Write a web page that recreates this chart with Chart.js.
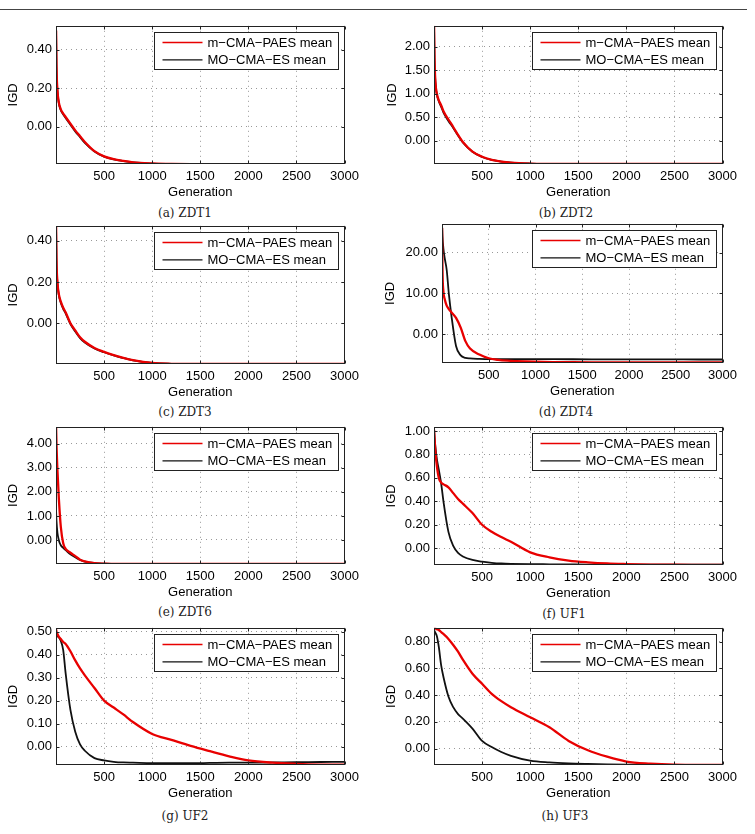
<!DOCTYPE html>
<html>
<head>
<meta charset="utf-8">
<script src="https://cdn.jsdelivr.net/npm/chart.js@4.4.0/dist/chart.umd.min.js"></script>
<style>
body { margin: 0; background: #fff; }
#page { position: relative; width: 755px; height: 834px; overflow: hidden; background: #fff; }
.rule { position: absolute; left: 0; top: 9px; width: 747px; border-top: 1px solid #444; }
.panel { position: absolute; }
.cap { position: absolute; font-family: "DejaVu Serif", serif; font-size: 12px; color: #222;
       transform: translate(-50%, -50%); white-space: nowrap; }
</style>
</head>
<body>
<div id="page"><div class="rule"></div></div>
<script>
// generations sampled along the x axis (shared by all panels)
const generations = [1, 5, 15, 30, 50, 75, 100, 150, 200, 250, 300, 400, 500, 600, 700, 800,
  1000, 1200, 1400, 1600, 1800, 2000, 2250, 2500, 2750, 3000];
const xTicks = [500, 1000, 1500, 2000, 2500, 3000];
const seriesNames = ['m\u2212CMA\u2212PAES mean', 'MO\u2212CMA\u2212ES mean'];

// IGD mean curves
const paesZDT1 = [0.50, 0.32, 0.19, 0.125, 0.09, 0.068, 0.05, 0.015, -0.02, -0.05, -0.08, -0.128, -0.155,
  -0.17, -0.179, -0.186, -0.192, -0.195, -0.196, -0.196, -0.196, -0.196, -0.196, -0.196, -0.196, -0.196];
const moZDT1 = [0.49, 0.31, 0.185, 0.12, 0.085, 0.063, 0.045, 0.01, -0.025, -0.055, -0.085, -0.13, -0.157,
  -0.171, -0.18, -0.187, -0.193, -0.195, -0.196, -0.196, -0.196, -0.196, -0.196, -0.196, -0.196, -0.196];

const paesZDT2 = [2.45, 1.8, 1.25, 1.0, 0.86, 0.75, 0.62, 0.45, 0.29, 0.12, -0.03, -0.235, -0.345,
  -0.41, -0.447, -0.47, -0.49, -0.497, -0.5, -0.5, -0.5, -0.5, -0.5, -0.5, -0.5, -0.5];
const moZDT2 = [2.4, 1.75, 1.22, 0.98, 0.84, 0.72, 0.59, 0.42, 0.27, 0.11, -0.04, -0.24, -0.35,
  -0.412, -0.448, -0.471, -0.49, -0.497, -0.5, -0.5, -0.5, -0.5, -0.5, -0.5, -0.5, -0.5];

const paesZDT3 = [0.47, 0.31, 0.2, 0.14, 0.105, 0.075, 0.053, 0.0, -0.035, -0.068, -0.09, -0.12, -0.139,
  -0.155, -0.168, -0.179, -0.193, -0.197, -0.198, -0.198, -0.198, -0.198, -0.198, -0.198, -0.198, -0.198];
const moZDT3 = [0.46, 0.3, 0.195, 0.135, 0.1, 0.07, 0.048, -0.004, -0.04, -0.072, -0.094, -0.123, -0.141,
  -0.156, -0.169, -0.18, -0.193, -0.197, -0.198, -0.198, -0.198, -0.198, -0.198, -0.198, -0.198, -0.198];

const paesZDT4 = [26, 16, 10.5, 8.5, 7.0, 6.1, 5.4, 4.0, 1.6, -1.7, -3.5, -5.0, -5.9,
  -6.3, -6.5, -6.6, -6.75, -6.83, -6.88, -6.9, -6.9, -6.92, -6.92, -6.93, -6.93, -6.93];
const moZDT4 = [26.5, 24, 21, 18.5, 15.8, 9.5, 4.7, -2.9, -5.2, -5.8, -5.95, -6.05, -6.1,
  -6.1, -6.1, -6.1, -6.12, -6.13, -6.14, -6.15, -6.16, -6.17, -6.18, -6.19, -6.2, -6.2];

const paesZDT6 = [4.7, 4.0, 2.9, 1.7, 0.55, -0.14, -0.37, -0.53, -0.67, -0.82, -0.89, -0.96, -0.985,
  -1.0, -1.0, -1.0, -1.0, -1.0, -1.0, -1.0, -1.0, -1.0, -1.0, -1.0, -1.0, -1.0];
const moZDT6 = [1.2, 0.8, 0.3, -0.02, -0.22, -0.33, -0.42, -0.6, -0.72, -0.83, -0.9, -0.96, -0.985,
  -0.995, -1.0, -1.0, -1.0, -1.0, -1.0, -1.0, -1.0, -1.0, -1.0, -1.0, -1.0, -1.0];

const paesUF1 = [1.01, 0.95, 0.82, 0.7, 0.6, 0.56, 0.545, 0.52, 0.47, 0.42, 0.38, 0.3, 0.2,
  0.14, 0.095, 0.055, -0.035, -0.078, -0.105, -0.12, -0.13, -0.135, -0.139, -0.141, -0.142, -0.143];
const moUF1 = [1.0, 0.95, 0.86, 0.76, 0.67, 0.55, 0.39, 0.14, 0.02, -0.04, -0.07, -0.1, -0.115,
  -0.124, -0.13, -0.133, -0.136, -0.137, -0.138, -0.139, -0.139, -0.14, -0.14, -0.14, -0.14, -0.14];

const paesUF2 = [0.51, 0.5, 0.49, 0.478, 0.468, 0.455, 0.447, 0.415, 0.375, 0.34, 0.31, 0.255, 0.2,
  0.17, 0.14, 0.107, 0.055, 0.029, 0.003, -0.02, -0.042, -0.06, -0.07, -0.075, -0.078, -0.079];
const moUF2 = [0.49, 0.485, 0.48, 0.475, 0.46, 0.42, 0.32, 0.16, 0.065, 0.01, -0.018, -0.05, -0.06,
  -0.066, -0.069, -0.07, -0.072, -0.072, -0.072, -0.071, -0.07, -0.07, -0.069, -0.068, -0.067, -0.066];

const paesUF3 = [0.9, 0.9, 0.898, 0.893, 0.887, 0.87, 0.855, 0.82, 0.775, 0.725, 0.665, 0.56, 0.485,
  0.41, 0.355, 0.31, 0.235, 0.16, 0.058, -0.012, -0.06, -0.096, -0.112, -0.12, -0.122, -0.122];
const moUF3 = [0.885, 0.88, 0.865, 0.84, 0.76, 0.62, 0.53, 0.39, 0.31, 0.258, 0.225, 0.15, 0.058,
  0.012, -0.025, -0.054, -0.09, -0.103, -0.11, -0.114, -0.117, -0.119, -0.12, -0.121, -0.122, -0.122];

// y tick labels per panel
const yTicksZDT1 = [0, 0.2, 0.4];
const yTicksZDT2 = [0, 0.5, 1, 1.5, 2];
const yTicksZDT3 = [0, 0.2, 0.4];
const yTicksZDT4 = [0, 10, 20];
const yTicksZDT6 = [0, 1, 2, 3, 4];
const yTicksUF1 = [0, 0.2, 0.4, 0.6, 0.8, 1.0];
const yTicksUF2 = [0, 0.1, 0.2, 0.3, 0.4, 0.5];
const yTicksUF3 = [0, 0.2, 0.4, 0.6, 0.8];

// layout: box = [left, top, right, bottom] of the plot area on the page
const panels = [
  { cap: '(a) ZDT1', red: paesZDT1, black: moZDT1, yTicks: yTicksZDT1, yMin: -0.195, yMax: 0.525,
    box: [56, 24, 348, 164], cx: 0, capAt: [185, 213], titlePad: 5.5 },
  { cap: '(b) ZDT2', red: paesZDT2, black: moZDT2, yTicks: yTicksZDT2, yMin: -0.5, yMax: 2.45,
    box: [434, 24, 726, 164], cx: 375, capAt: [566, 213], titlePad: 9.5 },
  { cap: '(c) ZDT3', red: paesZDT3, black: moZDT3, yTicks: yTicksZDT3, yMin: -0.198, yMax: 0.473,
    box: [56, 224, 348, 364], cx: 0, capAt: [185, 412], titlePad: 5.5 },
  { cap: '(d) ZDT4', red: paesZDT4, black: moZDT4, yTicks: yTicksZDT4, yMin: -7.06, yMax: 27.06,
    box: [442, 222, 726, 363], cx: 375, capAt: [566, 412], titlePad: 7.2 },
  { cap: '(e) ZDT6', red: paesZDT6, black: moZDT6, yTicks: yTicksZDT6, yMin: -1.0, yMax: 4.71,
    box: [56, 425, 348, 564], cx: 0, capAt: [185, 612], titlePad: 5.5 },
  { cap: '(f) UF1', red: paesUF1, black: moUF1, yTicks: yTicksUF1, yMin: -0.143, yMax: 1.036,
    box: [434, 425, 726, 565], cx: 375, capAt: [564, 614], titlePad: 9 },
  { cap: '(g) UF2', red: paesUF2, black: moUF2, yTicks: yTicksUF2, yMin: -0.08, yMax: 0.517,
    box: [56, 626, 348, 765], cx: 0, capAt: [185, 816], titlePad: 5.5 },
  { cap: '(h) UF3', red: paesUF3, black: moUF3, yTicks: yTicksUF3, yMin: -0.122, yMax: 0.903,
    box: [434, 626, 726, 765], cx: 375, capAt: [565, 816], titlePad: 9 }
];

Chart.defaults.font.family = '"Liberation Sans", Arial, sans-serif';
Chart.defaults.font.size = 13;
Chart.defaults.color = '#000';

const RED = 'rgb(232,0,0)';
const BLACK = '#111';
const axisFont = { family: '"Liberation Sans", Arial, sans-serif', size: 13 };

// black frame round the plot with short inward tick marks
const framePlugin = {
  id: 'frame',
  afterDraw(chart) {
    const { ctx, chartArea: a, scales } = chart;
    const l = Math.round(a.left) + 0.5, r = Math.round(a.right) - 0.5;
    const t = Math.round(a.top) + 0.5, b = Math.round(a.bottom) - 0.5;
    ctx.save();
    ctx.strokeStyle = '#222';
    ctx.lineWidth = 1;
    ctx.beginPath();
    scales.x.ticks.forEach(tk => {
      const x = Math.round(scales.x.getPixelForValue(tk.value)) + 0.5;
      ctx.moveTo(x, b); ctx.lineTo(x, b - 3);
      ctx.moveTo(x, t); ctx.lineTo(x, t + 3);
    });
    scales.y.ticks.forEach(tk => {
      const y = Math.round(scales.y.getPixelForValue(tk.value)) + 0.5;
      ctx.moveTo(l, y); ctx.lineTo(l + 3, y);
      ctx.moveTo(r, y); ctx.lineTo(r - 3, y);
    });
    ctx.stroke();
    ctx.strokeRect(l, t, r - l, b - t);
    ctx.restore();
  }
};

// legend box drawn inside the plot, top right
const boxLegend = {
  id: 'boxLegend',
  afterDatasetsDraw(chart) {
    const { ctx, chartArea: a } = chart;
    const w = 184, h = 37;
    const x0 = Math.round(a.right - 7 - w) + 0.5, y0 = Math.round(a.top + 6) + 0.5;
    ctx.save();
    ctx.fillStyle = '#fff';
    ctx.fillRect(x0, y0, w, h);
    ctx.strokeStyle = '#222';
    ctx.lineWidth = 1;
    ctx.strokeRect(x0, y0, w, h);
    ctx.font = '13px "Liberation Sans", Arial, sans-serif';
    ctx.textBaseline = 'middle';
    chart.data.datasets.forEach((ds, i) => {
      const y = y0 + 10 + i * 17.3;
      ctx.strokeStyle = ds.borderColor;
      ctx.lineWidth = 1.3;
      ctx.beginPath();
      ctx.moveTo(x0 + 8, y); ctx.lineTo(x0 + 48, y);
      ctx.stroke();
      ctx.fillStyle = '#000';
      ctx.fillText(ds.label, x0 + 53, y + 0.5);
    });
    ctx.restore();
  }
};

function makePanel(p) {
  const padTop = 10, padRight = 16, xAxisH = 36;
  const [L, T, R, B] = p.box;
  const w = R - p.cx + padRight;
  const h = padTop + (B - T) + xAxisH;

  const div = document.createElement('div');
  div.className = 'panel';
  div.style.left = p.cx + 'px';
  div.style.top = (T - padTop) + 'px';
  div.style.width = w + 'px';
  div.style.height = h + 'px';
  const cv = document.createElement('canvas');
  cv.width = w; cv.height = h;
  cv.style.width = w + 'px'; cv.style.height = h + 'px';
  div.appendChild(cv);
  document.getElementById('page').appendChild(div);

  const cap = document.createElement('div');
  cap.className = 'cap';
  cap.style.left = p.capAt[0] + 'px';
  cap.style.top = p.capAt[1] + 'px';
  cap.textContent = p.cap;
  document.getElementById('page').appendChild(cap);

  const gridOpts = { color: '#999', lineWidth: 1, drawTicks: false };

  new Chart(cv, {
    type: 'line',
    data: {
      datasets: [
        { label: seriesNames[0], data: generations.map((g, i) => ({ x: g, y: p.red[i] })),
          borderColor: RED, borderWidth: 2.3, pointRadius: 0, cubicInterpolationMode: 'monotone' },
        { label: seriesNames[1], data: generations.map((g, i) => ({ x: g, y: p.black[i] })),
          borderColor: BLACK, borderWidth: 1.8, pointRadius: 0, cubicInterpolationMode: 'monotone' }
      ]
    },
    options: {
      responsive: false,
      animation: false,
      devicePixelRatio: 1,
      layout: { padding: { top: padTop, right: padRight, left: 0, bottom: 0 } },
      plugins: { legend: { display: false }, tooltip: { enabled: false } },
      scales: {
        x: {
          type: 'linear', min: 0, max: 3000,
          afterBuildTicks: s => { s.ticks = xTicks.map(v => ({ value: v })); },
          afterFit: s => { s.height = xAxisH; },
          ticks: { maxRotation: 0, autoSkip: false, padding: 5, font: axisFont, color: '#000',
                   callback: v => String(v) },
          grid: gridOpts,
          border: { display: false, dash: [1, 4] },
          title: { display: true, text: 'Generation', padding: 0, font: axisFont, color: '#000' }
        },
        y: {
          type: 'linear', min: p.yMin, max: p.yMax,
          afterBuildTicks: s => { s.ticks = p.yTicks.map(v => ({ value: v })); },
          afterFit: s => { s.width = L - p.cx; },
          ticks: { padding: 4, font: axisFont, color: '#000', callback: v => v.toFixed(2) },
          grid: gridOpts,
          border: { display: false, dash: [1, 4] },
          title: { display: true, text: 'IGD', padding: { top: p.titlePad, bottom: 0 },
                   font: axisFont, color: '#000' }
        }
      }
    },
    plugins: [boxLegend, framePlugin]
  });
}

panels.forEach(makePanel);
</script>
</body>
</html>
